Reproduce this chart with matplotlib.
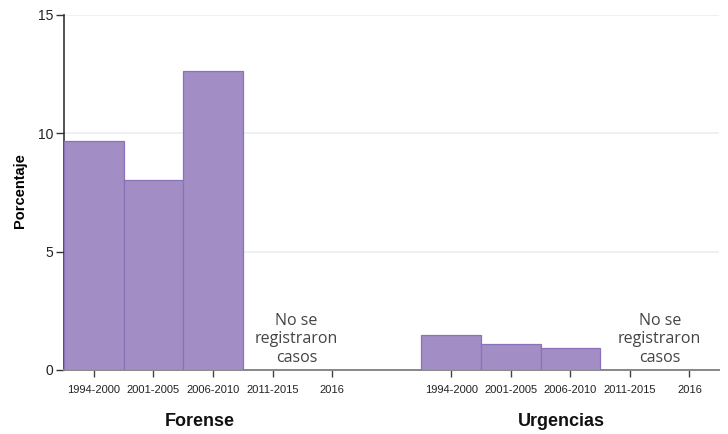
import numpy as np
import matplotlib.pyplot as plt
from matplotlib.transforms import blended_transform_factory

# data
periods = ['1994-2000', '2001-2005', '2006-2010', '2011-2015', '2016']
forense = [9.68, 8.02, 12.65]
urgencias = [1.47, 1.10, 0.93]
groups = ['Forense', 'Urgencias']
no_data_note = 'No se\nregistraron\ncasos'

bar_color = '#a28dc4'
edge_color = '#8a72bb'

plt.rcParams['font.family'] = ['Liberation Sans', 'DejaVu Sans']

fig = plt.figure(figsize=(7.28, 4.34), dpi=100)
ax = fig.add_axes([0.088, 0.1475, 0.900, 0.818])

# positions: forense slots 0..4, gap of one slot, urgencias 6..10
n = len(periods)
pos_f = np.arange(n)
pos_u = np.arange(n) + n + 1

ax.bar(pos_f[:len(forense)], forense, width=1.0, color=bar_color,
       edgecolor=edge_color, linewidth=0.9, zorder=3)
ax.bar(pos_u[:len(urgencias)], urgencias, width=1.0, color=bar_color,
       edgecolor=edge_color, linewidth=0.9, zorder=3)

ax.set_xlim(-0.5, pos_u[-1] + 0.5)
ax.set_ylim(0, 15)
ax.set_yticks([0, 5, 10, 15])
ax.yaxis.grid(True, color='#eaeff2', linewidth=1.2, zorder=0)
ax.set_axisbelow(True)

ax.set_xticks(np.concatenate([pos_f, pos_u]))
ax.set_xticklabels(periods + periods, fontsize=8, color='#222222')
ax.tick_params(axis='x', length=5, width=1, color='#444444', pad=6)
ax.tick_params(axis='y', length=6, width=1, color='#333333', labelsize=10,
               labelcolor='#222222', pad=2)

for side in ['top', 'right']:
    ax.spines[side].set_visible(False)
ax.spines['left'].set_color('#333333')
ax.spines['left'].set_linewidth(1.2)
ax.spines['bottom'].set_color('#888888')
ax.spines['bottom'].set_linewidth(1.4)

ax.set_ylabel('Porcentaje', fontsize=10.5, fontweight='bold')
ax.yaxis.set_label_coords(-0.056, 0.504)

# notes where no cases were recorded
for x in [3.4, 9.5]:
    ax.text(x, 1.3, no_data_note, ha='center', va='center', fontsize=11.5,
            color='#444444', family=['Open Sans', 'DejaVu Sans'],
            linespacing=1.22, zorder=4)

# group labels under the ticks
trans = blended_transform_factory(ax.transData, ax.transAxes)
for x, name in zip([1.78, 7.85], groups):
    ax.text(x, -0.145, name, transform=trans, ha='center', va='center',
            fontsize=13, fontweight='bold', color='#111111')

fig.savefig('out.png', dpi=100)
